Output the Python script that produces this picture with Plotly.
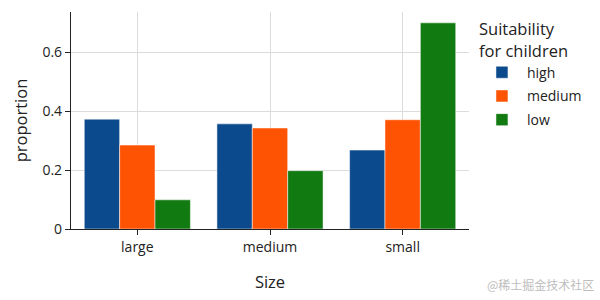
import plotly.graph_objects as go

sizes = ["large", "medium", "small"]
suitability = ["high", "medium", "low"]
high_vals = [0.373, 0.357, 0.268]
medium_vals = [0.285, 0.343, 0.371]
low_vals = [0.099, 0.198, 0.700]
colors = ["#0B4A8C", "#FF5304", "#117A11"]

series = [high_vals, medium_vals, low_vals]

fig = go.Figure()
for name, vals, col in zip(suitability, series, colors):
    fig.add_trace(go.Bar(x=sizes, y=vals, name=name, marker_color=col,
                         legendgroup=name,
                         marker_line_color="white", marker_line_width=0.5))

axis_common = dict(showline=True, linecolor="#222", linewidth=1.2,
                   showgrid=True, gridcolor="#dcdcdc", gridwidth=1,
                   ticks="outside", ticklen=5, tickcolor="#222",
                   tickfont=dict(size=14, color="#222"), zeroline=False)

fig.update_layout(
    width=600, height=300,
    margin=dict(l=71, r=131, t=12, b=71),
    paper_bgcolor="white", plot_bgcolor="white",
    font=dict(family="Open Sans", color="#222"),
    barmode="group", bargap=0.2, bargroupgap=0,
    xaxis=dict(title=dict(text="Size", font=dict(size=16.5), standoff=21), **axis_common),
    yaxis=dict(title=dict(text="proportion", font=dict(size=16.5), standoff=10),
               tickvals=[0, 0.2, 0.4, 0.6], ticktext=["0", "0.2", "0.4", "0.6"],
               **axis_common),
    legend=dict(title=dict(text="Suitability<br>for children", font=dict(size=16.5)),
                font=dict(size=14), x=1.02, y=0.992, xanchor="left", yanchor="top",
                itemwidth=40, tracegroupgap=2.5),
    showlegend=True,
)
fig.add_annotation(text="@稀土掘金技术社区", xref="paper", yref="paper",
                   x=1.32, y=-0.255, xanchor="right", yanchor="middle", showarrow=False,
                   font=dict(family="Noto Sans CJK SC", size=12, color="#bdbdbd"))

fig.write_html("out.html")
